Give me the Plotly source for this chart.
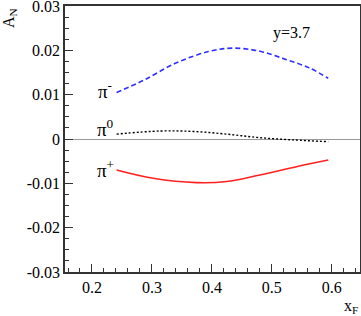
import plotly.graph_objects as go

# pi- (dashed blue)
xf_pim = [0.241, 0.2855, 0.341, 0.3967, 0.4355, 0.48, 0.5245, 0.5633, 0.594]
an_pim = [0.0105, 0.0132, 0.0172, 0.0198, 0.0205, 0.0198, 0.0179, 0.0160, 0.0137]
# pi0 (dotted black)
xf_pi0 = [0.241, 0.313, 0.369, 0.4245, 0.48, 0.5355, 0.594]
an_pi0 = [0.0011, 0.0018, 0.0017, 0.0011, 0.0003, -0.0002, -0.0006]
# pi+ (solid red)
xf_pip = [0.241, 0.302, 0.3745, 0.4245, 0.48, 0.541, 0.594]
an_pip = [-0.0070, -0.00887, -0.00985, -0.00960, -0.0081, -0.00624, -0.00474]

y_ticks = [-0.03, -0.02, -0.01, 0, 0.01, 0.02, 0.03]
y_ticktext = ["-0.03", "-0.02", "-0.01", "0", "0.01", "0.02", "0.03"]
x_ticks = [0.2, 0.3, 0.4, 0.5, 0.6]
x_ticktext = ["0.2", "0.3", "0.4", "0.5", "0.6"]

FONT = "Liberation Serif, Times New Roman, serif"

fig = go.Figure()
fig.add_trace(go.Scatter(x=xf_pim, y=an_pim, mode="lines", line=dict(color="#3030ff", width=1.6, dash="5px,3px", shape="spline", smoothing=1.0), showlegend=False))
fig.add_trace(go.Scatter(x=xf_pi0, y=an_pi0, mode="lines", line=dict(color="#000000", width=1.4, dash="2px,2px", shape="spline", smoothing=1.0), showlegend=False))
fig.add_trace(go.Scatter(x=xf_pip, y=an_pip, mode="lines", line=dict(color="#ff2020", width=1.6, shape="spline", smoothing=1.0), showlegend=False))

axis_common = dict(showline=True, linecolor="#333333", linewidth=1.5, mirror=True, showgrid=False,
                   ticks="inside", tickcolor="#333333", tickwidth=1, ticklen=8, automargin=False,
                   ticklabeloverflow="allow",
                   tickfont=dict(family=FONT, size=16, color="#000"))

fig.update_xaxes(range=[0.155, 0.647], tickvals=x_ticks, ticktext=x_ticktext, zeroline=False,
                 minor=dict(ticks="inside", dtick=0.02, ticklen=4, tickcolor="#333333"), **axis_common)
fig.update_yaxes(range=[-0.03, 0.03], tickvals=y_ticks, ticktext=y_ticktext, zeroline=True,
                 zerolinecolor="#999999", zerolinewidth=1,
                 minor=dict(ticks="inside", dtick=0.0025, ticklen=4, tickcolor="#333333"), **axis_common)

ann_font = dict(family=FONT, size=19, color="#000")
fig.add_annotation(x=0.222, y=0.0110, text="π<sup>-</sup>", showarrow=False, font=ann_font, xanchor="center", yanchor="middle")
fig.add_annotation(x=0.222, y=0.0024, text="π<sup>0</sup>", showarrow=False, font=ann_font, xanchor="center", yanchor="middle")
fig.add_annotation(x=0.222, y=-0.0068, text="π<sup>+</sup>", showarrow=False, font=ann_font, xanchor="center", yanchor="middle")
fig.add_annotation(x=0.532, y=0.0238, text="y=3.7", showarrow=False, font=dict(family=FONT, size=16, color="#000"), xanchor="center", yanchor="middle")
fig.add_annotation(xref="paper", yref="paper", x=-0.19, y=1.0, text="A<sub>N</sub>", textangle=-90, showarrow=False,
                   font=dict(family=FONT, size=16, color="#000"), xanchor="center", yanchor="top")
fig.add_annotation(xref="paper", yref="paper", x=1.0, y=-0.085, text="x<sub>F</sub>", showarrow=False,
                   font=dict(family=FONT, size=16, color="#000"), xanchor="right", yanchor="top")

fig.update_layout(width=361, height=316, margin=dict(l=65, r=1, t=6, b=44),
                  plot_bgcolor="white", paper_bgcolor="white")

fig.write_html("out.html", config={"displayModeBar": False},
               post_script="document.body.style.margin='0';")
